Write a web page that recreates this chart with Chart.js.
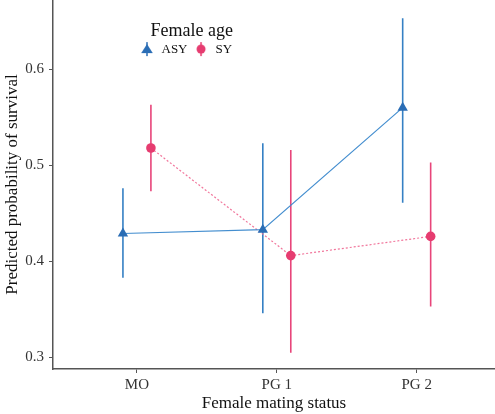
<!DOCTYPE html>
<html>
<head>
<meta charset="utf-8">
<script src="https://cdn.jsdelivr.net/npm/chart.js@4/dist/chart.umd.min.js"></script>
<style>
html,body{margin:0;padding:0;background:#fff;}
#wrap{width:495px;height:414px;position:relative;}
</style>
</head>
<body>
<div id="wrap"><canvas id="c" width="495" height="414"></canvas></div>
<script>
// ---- data ----
const categories = ["MO", "PG 1", "PG 2"];
const seriesNames = ["ASY", "SY"];
const asyMean = [0.429, 0.433, 0.560];
const asyLow  = [0.383, 0.346, 0.461];
const asyHigh = [0.476, 0.523, 0.653];
const syMean  = [0.518, 0.406, 0.426];
const syLow   = [0.473, 0.305, 0.353];
const syHigh  = [0.563, 0.516, 0.503];
const yTicks  = [0.3, 0.4, 0.5, 0.6];

const BLUE = "#2a6db5", BLUE_LINE = "rgba(58,136,204,0.95)";
const PINK = "#e63c70", PINK_LINE = "rgba(240,110,150,0.95)";
const dodge = 0.1;
const FONT = "'Liberation Serif', 'DejaVu Serif', serif";

function pts(mean, off){ return mean.map((v,i)=>({x:i+1+off, y:v})); }
function bars(lo, hi, off){
  const out=[];
  lo.forEach((v,i)=>{ out.push({x:i+1+off,y:v}); out.push({x:i+1+off,y:hi[i]}); out.push({x:i+1+off,y:null}); });
  return out;
}
function legendIcon(color, kind){
  const c=document.createElement('canvas'); c.width=14; c.height=16;
  const g=c.getContext('2d');
  g.strokeStyle=color; g.lineWidth=1.5; g.beginPath(); g.moveTo(7,1); g.lineTo(7,15); g.stroke();
  g.fillStyle=color; g.beginPath();
  if(kind==='tri'){ g.moveTo(7,3); g.lineTo(12.8,12); g.lineTo(1.2,12); g.closePath(); }
  else { g.arc(7,8,4.5,0,Math.PI*2); }
  g.fill();
  return c;
}

// legend is drawn by Chart.js but floated inside the plot area (like ggplot's inside legend)
const legendFloat = {
  id:'legendFloat',
  beforeLayout(chart){
    const lg=chart.legend; if(!lg || lg._floatWrapped) return;
    const f=lg.fit.bind(lg);
    lg.fit=function(){ f(); this._realH=this.height; if(this.lineWidths && this.lineWidths.length) this.lineWidths[0]+=18; this.height=0; };
    lg._floatWrapped=true;
  },
  afterLayout(chart){
    const lg=chart.legend; if(!lg) return;
    lg.height = lg._realH;
    lg.left = 133.5; lg.right = lg.left + 140; lg.width = 140;
    lg.top = 22.5; lg.bottom = lg.top + lg.height;
  }
};

new Chart(document.getElementById('c'), {
  type:'line',
  data:{ datasets:[
    {label:seriesNames[0], data:pts(asyMean,-dodge), borderColor:BLUE_LINE, borderWidth:1.2, pointStyle:'triangle', pointRadius:6, pointBackgroundColor:BLUE, pointBorderColor:BLUE, pointBorderWidth:0, order:1},
    {label:seriesNames[1], data:pts(syMean,dodge), borderColor:PINK_LINE, borderWidth:1.2, borderDash:[2,2], pointStyle:'circle', pointRadius:4.8, pointBackgroundColor:PINK, pointBorderColor:PINK, pointBorderWidth:0, order:1},
    {label:'asyErr', data:bars(asyLow,asyHigh,-dodge), borderColor:"#3580c4", borderWidth:1.6, pointRadius:0, spanGaps:false, order:2},
    {label:'syErr', data:bars(syLow,syHigh,dodge), borderColor:"#e8457a", borderWidth:1.6, pointRadius:0, spanGaps:false, order:2}
  ]},
  options:{
    responsive:false, animation:false,
    layout:{padding:0, autoPadding:false},
    plugins:{
      tooltip:{enabled:false},
      legend:{
        position:'top', align:'start', fullSize:false,
        title:{display:true, text:'Female age', color:'#111', font:{family:FONT,size:18}, padding:{top:0,bottom:-7}},
        labels:{
          usePointStyle:true, pointStyleWidth:16, boxHeight:13, padding:5.5,
          color:'#111', font:{family:FONT,size:13},
          generateLabels:(chart)=>[
            {text:seriesNames[0], pointStyle:legendIcon(BLUE,'tri'), fillStyle:BLUE, strokeStyle:BLUE, lineWidth:0, datasetIndex:0, fontColor:'#111'},
            {text:seriesNames[1], pointStyle:legendIcon(PINK,'dot'), fillStyle:PINK, strokeStyle:PINK, lineWidth:0, datasetIndex:1, fontColor:'#111'}
          ]
        }
      }
    },
    scales:{
      x:{
        type:'linear', min:0.4, max:3.56,
        afterBuildTicks:(s)=>{ s.ticks = categories.map((c,i)=>({value:i+1})); },
        afterFit:(s)=>{ s.height = 45; s.paddingLeft = 0; s.paddingRight = 0; },
        ticks:{ callback:(v)=>categories[v-1], color:'#333', font:{family:FONT,size:15}, padding:3, maxRotation:0 },
        grid:{ drawOnChartArea:false, tickLength:4, tickColor:'#555', tickWidth:1 },
        border:{ color:'#555', width:1.5 },
        title:{ display:true, text:'Female mating status', color:'#111', font:{family:FONT,size:17}, padding:{top:0,bottom:0} }
      },
      y:{
        type:'linear', min:0.288, max:0.672,
        afterBuildTicks:(s)=>{ s.ticks = yTicks.map(v=>({value:v})); },
        afterFit:(s)=>{ s.width = 53; s.paddingTop = 0; s.paddingBottom = 0; },
        ticks:{ callback:(v)=>v.toFixed(1), color:'#333', font:{family:FONT,size:15}, padding:5 },
        grid:{ drawOnChartArea:false, tickLength:4, tickColor:'#555', tickWidth:1 },
        border:{ color:'#555', width:1.5 },
        title:{ display:true, text:'Predicted probability of survival', color:'#111', font:{family:FONT,size:17}, padding:{top:2,bottom:0} }
      }
    }
  },
  plugins:[legendFloat]
});
</script>
</body>
</html>
